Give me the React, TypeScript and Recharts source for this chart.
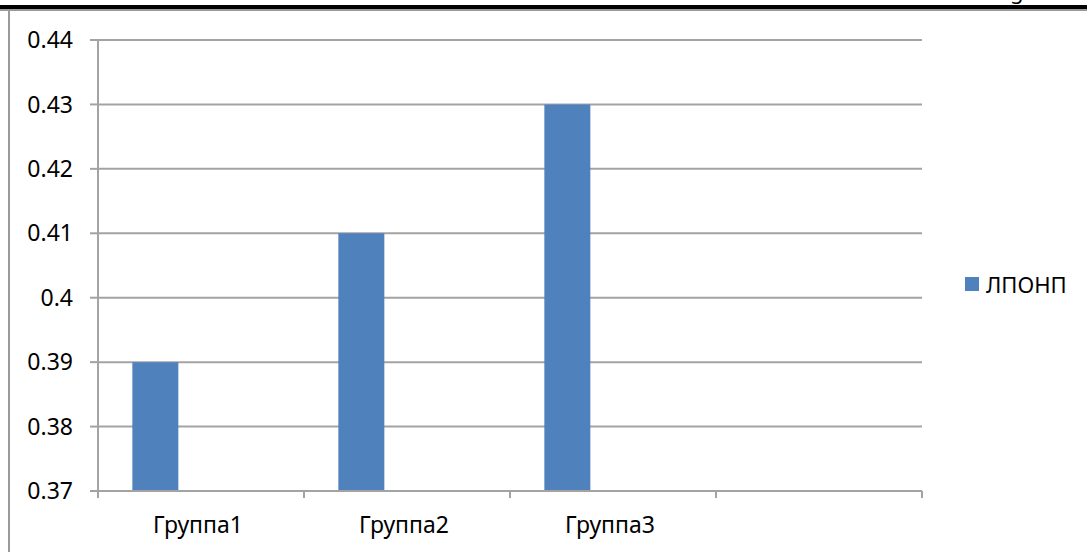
import { BarChart, Bar, XAxis, YAxis, CartesianGrid, Legend } from 'recharts'

const categories = ['Группа1', 'Группа2', 'Группа3', '']
const lponpValues = [0.39, 0.41, 0.43, null]
const yTicks = [0.37, 0.38, 0.39, 0.4, 0.41, 0.42, 0.43, 0.44]
const seriesName = 'ЛПОНП'

const data = categories.map((name, i) => ({
  name,
  lponp: lponpValues[i],
  empty1: null,
  empty2: null,
}))

const FONT = '"Noto Sans", "Liberation Sans", Arial, sans-serif'
const GRID = '#a3a3a3'
const BAR = '#4f81bd'
const TICK_SIZE = 7
const TICK_MARGIN = 19

// category label + tick marks on the category boundaries (Excel style)
// eslint-disable-next-line @typescript-eslint/no-explicit-any
const CategoryTick = (props: any) => {
  const { x, y, payload, width, visibleTicksCount, index } = props
  const half = width / visibleTicksCount / 2
  const axisY = y - TICK_SIZE - TICK_MARGIN
  const isLast = index === visibleTicksCount - 1
  return (
    <g>
      <line x1={x - half} x2={x - half} y1={axisY} y2={axisY + TICK_SIZE} stroke={GRID} strokeWidth={2} />
      {isLast && (
        <line x1={x + half} x2={x + half} y1={axisY} y2={axisY + TICK_SIZE} stroke={GRID} strokeWidth={2} />
      )}
      <text x={x - 3} y={y} dy="0.71em" textAnchor="middle" fontFamily={FONT} fontSize={23} fill="#000">
        {payload.value}
      </text>
    </g>
  )
}

const renderLegend = () => (
  <div style={{ display: 'flex', alignItems: 'center', fontFamily: FONT, fontSize: 22, color: '#000' }}>
    <span style={{ width: 14, height: 14, background: BAR, display: 'inline-block', marginRight: 7 }} />
    <span>{seriesName}</span>
  </div>
)

export default function App() {
  return (
    <div style={{ position: 'absolute', left: 0, top: 0, width: 1087, height: 552, background: '#fff', overflow: 'hidden' }}>
      {/* page edges */}
      <div style={{ position: 'absolute', left: 0, top: 5, width: 1087, height: 4, background: '#000' }} />
      <div style={{ position: 'absolute', left: 0, top: 9, width: 1087, height: 2, background: '#9a9a9a' }} />
      <div style={{ position: 'absolute', left: 8, top: 10, width: 2, height: 542, background: '#9a9a9a' }} />
      <svg style={{ position: 'absolute', left: 0, top: 0 }} width={1087} height={5}>
        <text x={1010} y={-1} fontFamily={FONT} fontSize={22} fill="#000">g</text>
      </svg>

      <div style={{ position: 'absolute', left: 0, top: 0 }}>
        <BarChart
          width={1087}
          height={552}
          data={data}
          margin={{ top: 40, right: 45, bottom: 11, left: 8 }}
          barCategoryGap="16.67%"
          barGap={0}
        >
          <CartesianGrid vertical={false} stroke={GRID} strokeWidth={2} />
          <XAxis
            dataKey="name"
            height={50}
            axisLine={{ stroke: GRID, strokeWidth: 2 }}
            tickLine={false}
            interval={0}
            tickSize={TICK_SIZE}
            tickMargin={TICK_MARGIN}
            tick={<CategoryTick />}
          />
          <YAxis
            width={90}
            domain={[0.37, 0.44]}
            ticks={yTicks}
            allowDataOverflow
            tickSize={8}
            tickMargin={17}
            axisLine={{ stroke: GRID, strokeWidth: 2 }}
            tickLine={{ stroke: GRID, strokeWidth: 2 }}
            tick={{ fontFamily: FONT, fontSize: 23, fill: '#000' }}
          />
          <Legend
            layout="vertical"
            align="right"
            verticalAlign="middle"
            content={renderLegend}
            wrapperStyle={{ position: 'absolute', left: 965, top: 269, width: 120 }}
          />
          <Bar dataKey="lponp" name={seriesName} fill={BAR} isAnimationActive={false} />
          <Bar dataKey="empty1" fill={BAR} legendType="none" isAnimationActive={false} />
          <Bar dataKey="empty2" fill={BAR} legendType="none" isAnimationActive={false} />
        </BarChart>
      </div>
    </div>
  )
}
